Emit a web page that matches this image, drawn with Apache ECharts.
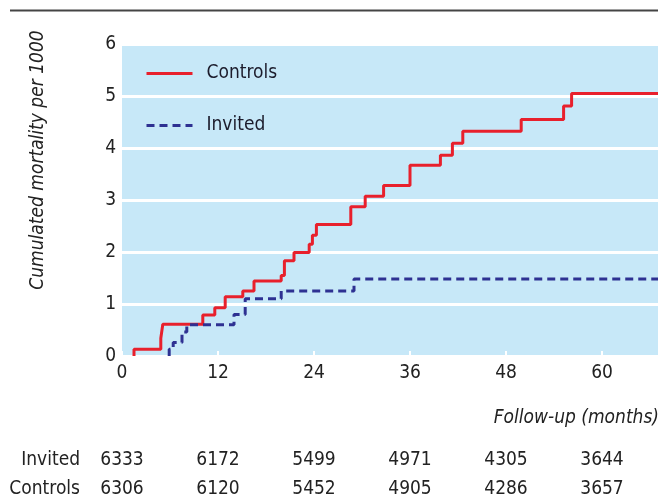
<!DOCTYPE html>
<html><head><meta charset="utf-8">
<script src="https://cdn.jsdelivr.net/npm/echarts@6/dist/echarts.min.js"></script>
<style>html,body{margin:0;padding:0;background:#fff}#c{width:662px;height:499px}</style>
</head><body><div id="c"></div>
<script>
// Step data: [month, cumulated mortality per 1000] at each change point
const controls = [
  [1.5,0],[1.5,0.13],[4.85,0.34],[5.1,0.61],[10.1,0.79],[11.6,0.93],[12.9,1.14],
  [15.1,1.25],[16.5,1.44],[19.9,1.55],[20.3,1.83],[21.5,1.99],[23.4,2.15],[23.8,2.32],
  [24.3,2.53],[28.6,2.87],[30.4,3.07],[32.7,3.28],[36.0,3.67],[39.8,3.86],[41.3,4.09],
  [42.6,4.32],[49.9,4.55],[55.2,4.81],[56.2,5.05],[67,5.05]
];
const invited = [
  [5.9,0],[5.9,0.13],[6.4,0.26],[7.5,0.46],[8.1,0.6],[14.0,0.8],[15.4,1.1],
  [19.9,1.25],[29.0,1.48],[67,1.48]
];
const xTicks = [0,12,24,36,48,60];
const invitedAtRisk = [6333,6172,5499,4971,4305,3644];
const controlsAtRisk = [6306,6120,5452,4905,4286,3657];
const rowNames = ['Invited','Controls'];
const yTitle = 'Cumulated mortality per 1000';

const FONT = "'Liberation Sans Narrow','DejaVu Sans Condensed','Arial Narrow',sans-serif";
const txt = '#222';
const chart = echarts.init(document.getElementById('c'));
function riskAxis(values, offset){
  return {
    type:'value', min:0, max:67, interval:12, position:'bottom', offset:offset,
    axisLine:{show:false}, axisTick:{show:false}, splitLine:{show:false},
    axisLabel:{show:true, margin:8, fontFamily:FONT, fontSize:19, color:txt,
      showMaxLabel:false,
      formatter:v=>{const i=xTicks.indexOf(v);return i>=0?String(values[i]):'';}}
  };
}
chart.setOption({
  animation:false,
  grid:{left:122,right:4,top:44,bottom:143,show:true,backgroundColor:'#c7e8f8',borderWidth:0},
  legend:{orient:'vertical',left:140,top:59,itemWidth:46,itemHeight:14,itemGap:33,
    itemStyle:{opacity:0},
    lineStyle:{width:3},
    textStyle:{fontFamily:FONT,fontSize:19,color:'#1c1c2c',padding:[0,0,0,9]},
    data:['Controls','Invited']},
  xAxis:[{
    type:'value',min:0,max:67,interval:12,
    axisLine:{show:false},
    axisTick:{show:true,inside:true,length:5,lineStyle:{color:'#fff',width:2}},
    splitLine:{show:false},
    axisLabel:{margin:8,fontFamily:FONT,fontSize:19,color:txt,showMaxLabel:false,
      formatter:v=>xTicks.indexOf(v)>=0?String(v):''}
  }, riskAxis(invitedAtRisk,87), riskAxis(controlsAtRisk,116)],
  yAxis:{
    type:'value',min:0,max:6,interval:1,
    axisLine:{show:false},axisTick:{show:false},
    axisLabel:{margin:6,fontFamily:FONT,fontSize:19,color:txt},
    splitLine:{show:true,lineStyle:{color:'#fff',width:3}}
  },
  series:[
    {name:'Controls',type:'line',step:'end',data:controls,symbol:'none',
      lineStyle:{color:'#e8202c',width:3},itemStyle:{color:'#e8202c'}},
    {name:'Invited',type:'line',step:'end',data:invited,symbol:'none',
      lineStyle:{color:'#2e3192',width:3,type:[8,5]},itemStyle:{color:'#2e3192'}}
  ],
  graphic:[
    {type:'line',shape:{x1:10,y1:10.5,x2:658,y2:10.5},style:{stroke:'#444',lineWidth:2}},
    {type:'text',x:38,y:160,rotation:Math.PI/2,
      style:{text:yTitle,font:'italic 19px '+FONT,fill:txt,align:'center',verticalAlign:'middle'}},
    {type:'text',right:3,top:409,style:{text:'Follow-up (months)',font:'italic 19px '+FONT,fill:txt}},
    {type:'text',x:80,y:460,style:{text:rowNames[0],font:'19px '+FONT,fill:txt,align:'right',verticalAlign:'middle'}},
    {type:'text',x:80,y:489,style:{text:rowNames[1],font:'19px '+FONT,fill:txt,align:'right',verticalAlign:'middle'}}
  ]
});
</script></body></html>
